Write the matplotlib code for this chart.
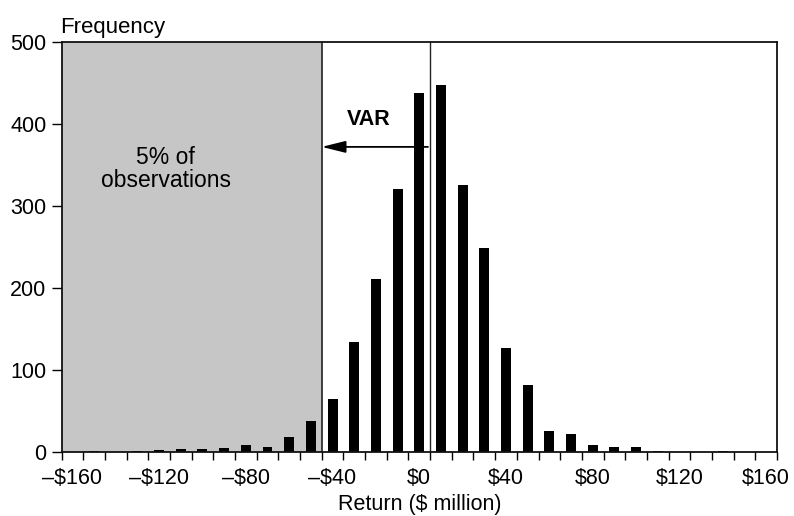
import matplotlib
matplotlib.use("Agg")
import matplotlib.pyplot as plt

# ---- data ----
returns = [-160, -150, -140, -130, -120, -110, -100, -90, -80, -70, -60, -50, -40,
           -30, -20, -10, 0, 10, 20, 30, 40, 50, 60, 70, 80, 90, 100, 110, 120,
           130, 140, 150, 160]
frequency = [0, 1, 0, 1, 2, 3, 3, 4, 8, 6, 18, 38, 64,
             134, 211, 320, 438, 447, 326, 248, 126, 82, 25, 22, 8, 6, 6, 1, 0,
             0, 1, 0, 0]
tick_values = [-160, -120, -80, -40, 0, 40, 80, 120, 160]
tick_labels = ["\u2013\\$160", "\u2013\\$120", "\u2013\\$80", "\u2013\\$40", "\\$0",
               "\\$40", "\\$80", "\\$120", "\\$160"]
var_cutoff = -45
mean_line = 5
arrow_level = 372

plt.rcParams['font.family'] = ['Liberation Sans', 'DejaVu Sans']

fig = plt.figure(figsize=(7.94, 5.16), dpi=100)
ax = fig.add_axes([0.0775, 0.1246, 0.9011, 0.794])

ax.set_xlim(-165, 165)
ax.set_ylim(0, 500)

# shaded 5% tail
ax.axvspan(-165, var_cutoff, facecolor='#c6c6c6', edgecolor='none', zorder=0)
ax.axvline(var_cutoff, color='#222222', lw=1.2, zorder=1)
ax.axvline(mean_line, color='#222222', lw=1.0, zorder=1)

ax.bar(returns, frequency, width=4.6, color='black', zorder=2)

ax.annotate('', xy=(var_cutoff, arrow_level), xytext=(mean_line - 1, arrow_level),
            arrowprops=dict(arrowstyle='-|>,head_length=1.45,head_width=0.36',
                            mutation_scale=10, color='black', lw=1.3,
                            shrinkA=0, shrinkB=0), zorder=3)
ax.text(-23.5, 405, 'VAR', fontsize=15.5, fontweight='bold', ha='center', va='center')
ax.text(-117, 345, '5% of\nobservations', fontsize=16.5, ha='center', va='center',
        linespacing=0.95)

# axes styling
for s in ax.spines.values():
    s.set_linewidth(1.3)
    s.set_color('#111111')

ax.set_xticks(tick_values)
ax.set_xticklabels(tick_labels)
ax.set_xticks([-165 + 10 * j for j in range(34)], minor=True)
ax.tick_params(axis='x', which='major', length=0, pad=12, labelsize=15.5)
ax.tick_params(axis='x', which='minor', length=6, width=1.0, direction='out')
ax.set_yticks([0, 100, 200, 300, 400, 500])
ax.tick_params(axis='y', which='major', length=7, width=1.0, direction='out',
               pad=4, labelsize=15.5)

ax.set_xlabel('Return (\\$ million)', fontsize=15.5, labelpad=3)
fig.text(0.0755, 0.936, 'Frequency', fontsize=16, ha='left', va='baseline')

fig.savefig('out.png', dpi=100)
